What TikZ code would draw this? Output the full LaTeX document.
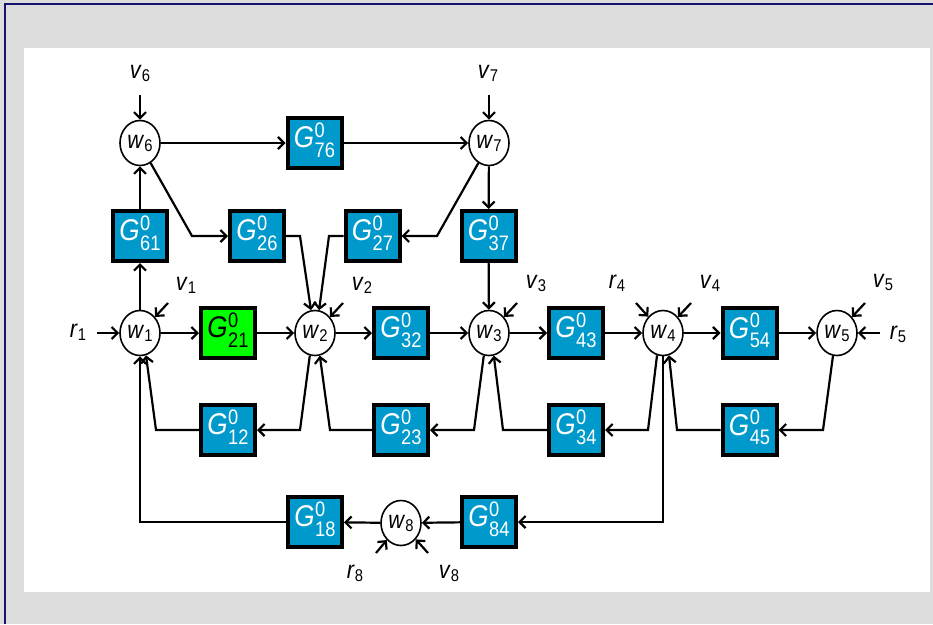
\documentclass[tikz,border=0pt]{standalone}
\usepackage{fontspec}
\setmainfont[FakeStretch=0.87]{Liberation Sans}
\usetikzlibrary{arrows.meta,shapes.geometric}
\definecolor{gblue}{RGB}{0,153,204}
\definecolor{ggreen}{RGB}{0,255,0}
\definecolor{bggray}{RGB}{220,220,220}
\definecolor{navyb}{RGB}{20,20,110}
\newcommand{\sv}[2]{\textit{#1}\raisebox{-3pt}{\fontsize{17}{17}\selectfont #2}}
\newcommand{\Gt}[1]{\textit{G}\hspace{0.5pt}\raisebox{10.5pt}{\fontsize{21}{18.5}\selectfont\begin{tabular}[t]{@{}l@{}}0\\#1\end{tabular}}}
\begin{document}
\begin{tikzpicture}[x=1pt,y=-1pt,
  sum/.style={ellipse,draw,line width=1.6pt,fill=white,minimum width=40pt,minimum height=45pt,inner sep=0pt,font=\fontsize{25}{25}\selectfont},
  blk/.style={rectangle,draw=black,line width=4pt,fill=gblue,minimum width=54pt,minimum height=50pt,inner sep=0pt,text=white,font=\fontsize{30}{30}\selectfont},
  grn/.style={blk,fill=ggreen,text=black},
  lbl/.style={inner sep=0pt,font=\fontsize{25}{25}\selectfont},
  arr/.style={line width=2.2pt,-{Straight Barb[length=6pt,width=12pt]}}]
\useasboundingbox (0,0) rectangle (933,624);
\fill[bggray] (0,0) rectangle (933,624);
\fill[white] (24,48) rectangle (930,592);
\draw[navyb,line width=2pt] (5,624) -- (5,4) -- (933,4);

% summation nodes
\node[sum] (w6) at (140,143) {\sv{w}{6}};
\node[sum] (w7) at (489,143) {\sv{w}{7}};
\node[sum] (w1) at (140,333) {\sv{w}{1}};
\node[sum] (w2) at (315,333) {\sv{w}{2}};
\node[sum] (w3) at (489,333) {\sv{w}{3}};
\node[sum] (w4) at (663,333) {\sv{w}{4}};
\node[sum] (w5) at (837,333) {\sv{w}{5}};
\node[sum] (w8) at (401,523) {\sv{w}{8}};

% blocks
\node[blk] (G76) at (314.5,143) {\Gt{76}};
\node[blk] (G61) at (140,236) {\Gt{61}};
\node[blk] (G26) at (257,236) {\Gt{26}};
\node[blk] (G27) at (372.5,236) {\Gt{27}};
\node[blk] (G37) at (488.5,236) {\Gt{37}};
\node[grn] (G21) at (228,333) {\Gt{21}};
\node[blk] (G32) at (401,333) {\Gt{32}};
\node[blk] (G43) at (576,333) {\Gt{43}};
\node[blk] (G54) at (749.5,333) {\Gt{54}};
\node[blk] (G12) at (228,430) {\Gt{12}};
\node[blk] (G23) at (401,430) {\Gt{23}};
\node[blk] (G34) at (576,430) {\Gt{34}};
\node[blk] (G45) at (749.5,430) {\Gt{45}};
\node[blk] (G18) at (315,522) {\Gt{18}};
\node[blk] (G84) at (489,522) {\Gt{84}};

% labels
\node[lbl] (lv6) at (140,73) {\sv{v}{6}};
\node[lbl] (lv7) at (488,73) {\sv{v}{7}};
\node[lbl] (lr1) at (78,332) {\sv{r}{1}};
\node[lbl] (lv1) at (186,285) {\sv{v}{1}};
\node[lbl] (lv2) at (362,285) {\sv{v}{2}};
\node[lbl] (lv3) at (536,283) {\sv{v}{3}};
\node[lbl] (lr4) at (617,283) {\sv{r}{4}};
\node[lbl] (lv4) at (710,283) {\sv{v}{4}};
\node[lbl] (lv5) at (883,282) {\sv{v}{5}};
\node[lbl] (lr5) at (898,334) {\sv{r}{5}};
\node[lbl] (lr8) at (355,573) {\sv{r}{8}};
\node[lbl] (lv8) at (449,573) {\sv{v}{8}};

% free ends
\coordinate (v6a) at (140,95);
\coordinate (v7a) at (489,95);
\coordinate (r1a) at (97,333);
\coordinate (r5a) at (880,333);
\coordinate (v1a) at (168,303);
\coordinate (v2a) at (343,303);
\coordinate (v3a) at (517,303);
\coordinate (r4a) at (636,303);
\coordinate (v4a) at (691,303);
\coordinate (v5a) at (865,303);
\coordinate (r8a) at (376,553);
\coordinate (v8a) at (428,553);

% kinks
\coordinate (k1) at (192,236);
\coordinate (k2) at (437,236);
\coordinate (k3) at (300,236);
\coordinate (k4) at (329,236);
\coordinate (k5) at (300,430);
\coordinate (k6) at (156,430);
\coordinate (k7) at (330,430);
\coordinate (k8) at (474,430);
\coordinate (k9) at (503,430);
\coordinate (k10) at (648,430);
\coordinate (k11) at (677,430);
\coordinate (k12) at (823,430);
\coordinate (k13) at (663,522);
\coordinate (k14) at (140,522);

% top part
\draw[arr] (v6a) -- (w6);
\draw[arr] (v7a) -- (w7);
\draw[arr] (w6) -- (G76);
\draw[arr] (G76) -- (w7);
\draw[arr] (G61) -- (w6);
\draw[arr] (w1) -- (G61);
\draw[arr] (w6.-62) -- (k1) -- (G26.west);
\draw[arr] (w7.-118) -- (k2) -- (G27.east);
\draw[arr] (G26.east) -- (k3) -- (w2.100);
\draw[arr] (G27.west) -- (k4) -- (w2.80);
\draw[arr] (w7) -- (G37);
\draw[arr] (G37) -- (w3);

% main row
\draw[arr] (r1a) -- (w1);
\draw[arr] (w1) -- (G21);
\draw[arr] (G21) -- (w2);
\draw[arr] (w2) -- (G32);
\draw[arr] (G32) -- (w3);
\draw[arr] (w3) -- (G43);
\draw[arr] (G43) -- (w4);
\draw[arr] (w4) -- (G54);
\draw[arr] (G54) -- (w5);
\draw[arr] (r5a) -- (w5);
\draw[arr] (v1a) -- (w1);
\draw[arr] (v2a) -- (w2);
\draw[arr] (v3a) -- (w3);
\draw[arr] (r4a) -- (w4);
\draw[arr] (v4a) -- (w4);
\draw[arr] (v5a) -- (w5);

% feedback row
\draw[arr] (w2.-103) -- (k5) -- (G12.east);
\draw[arr] (G12.west) -- (k6) -- (w1.-75);
\draw[arr] (G23.west) -- (k7) -- (w2.-78);
\draw[arr] (w3.-103) -- (k8) -- (G23.east);
\draw[arr] (G34.west) -- (k9) -- (w3.-78);
\draw[arr] (w4.-105) -- (k10) -- (G34.east);
\draw[arr] (G45.west) -- (k11) -- (w4.-75);
\draw[arr] (w5.-100) -- (k12) -- (G45.east);

% bottom loop
\draw[arr] (w4.south) -- (k13) -- (G84.east);
\draw[arr] (G84) -- (w8);
\draw[arr] (w8) -- (G18);
\draw[arr] (G18.west) -- (k14) -- (w1.south);
\draw[arr] (r8a) -- (w8);
\draw[arr] (v8a) -- (w8);
\end{tikzpicture}
\end{document}
